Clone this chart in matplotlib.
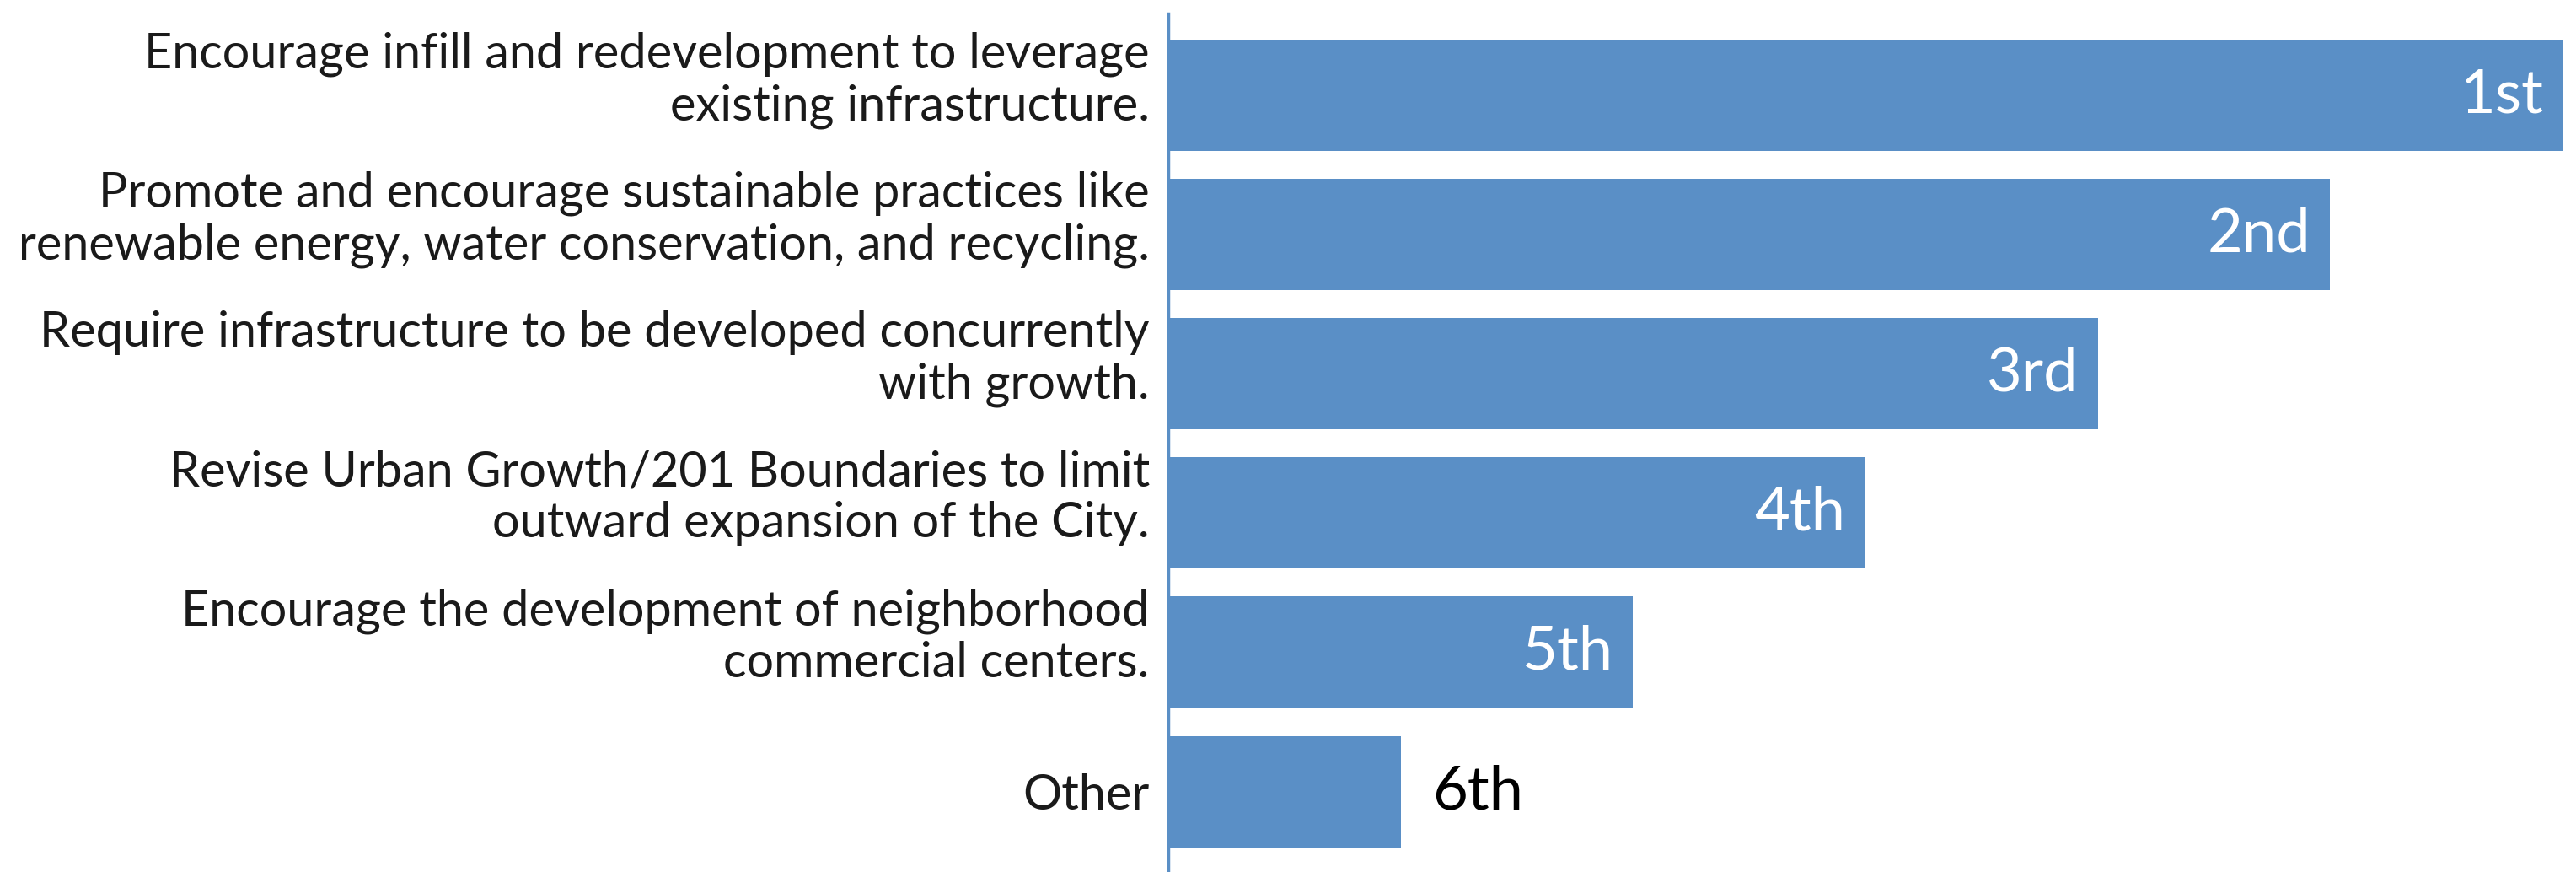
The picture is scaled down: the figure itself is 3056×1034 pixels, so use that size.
import matplotlib
matplotlib.use("Agg")
import matplotlib.pyplot as plt
from matplotlib.transforms import ScaledTranslation

plt.rcParams['font.family'] = ['Lato', 'DejaVu Sans']

strategies = [
    "Encourage infill and redevelopment to leverage\nexisting infrastructure.",
    "Promote and encourage sustainable practices like\nrenewable energy, water conservation, and recycling.",
    "Require infrastructure to be developed concurrently\nwith growth.",
    "Revise Urban Growth/201 Boundaries to limit\noutward expansion of the City.",
    "Encourage the development of neighborhood\ncommercial centers.",
    "Other",
]
scores = [6, 5, 4, 3, 2, 1]
ranks = ["1st", "2nd", "3rd", "4th", "5th", "6th"]

bar_color = '#5a8fc6'

fig = plt.figure(figsize=(30.56, 10.34), dpi=100)
ax = fig.add_axes([1386 / 3056, 0, 1 - 1386 / 3056, 1 - 16 / 1034])

ypos = list(range(len(strategies)))
ax.barh(ypos, scores, height=0.8, color=bar_color)
ax.set_xlim(0, 6.058)
ax.set_ylim(5.578, -0.587)

for y, s, r in zip(ypos, scores, ranks):
    if s > 1:
        ax.text(s - 0.085, y, r, ha='right', va='center', color='white', fontsize=52)
    else:
        ax.text(s + 0.135, y, r, ha='left', va='center', color='black', fontsize=52)

ax.set_yticks(ypos)
ax.set_yticklabels(strategies, fontsize=41.5, linespacing=1.19, color='#1a1a1a')
ax.tick_params(axis='y', length=0, pad=16)
ax.set_xticks([])

# two-line labels sit a little above the bar centre
lift = ScaledTranslation(0, 0.27, fig.dpi_scale_trans)
for lab in ax.get_yticklabels():
    if "\n" in lab.get_text():
        lab.set_transform(lab.get_transform() + lift)

for side in ['top', 'right', 'bottom']:
    ax.spines[side].set_visible(False)
ax.spines['left'].set_color(bar_color)
ax.spines['left'].set_linewidth(2.5)

fig.savefig('out.png', dpi=100)
